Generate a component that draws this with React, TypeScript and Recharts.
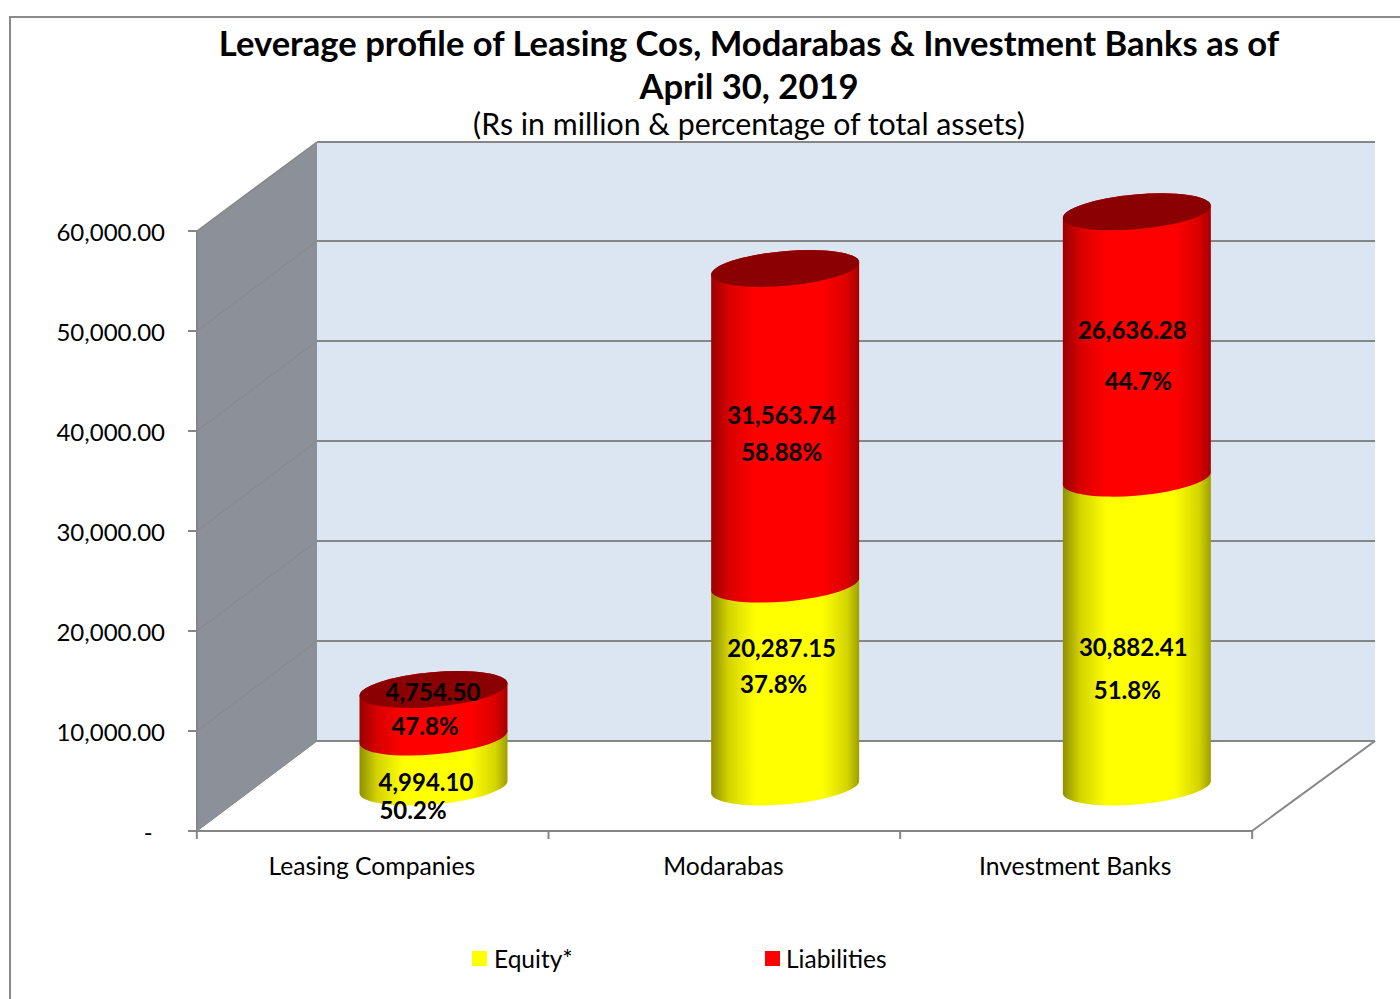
import React from "react";
import { BarChart, Bar, XAxis, YAxis, CartesianGrid, Legend, LabelList, Customized } from "recharts";

const categories = ["Leasing Companies", "Modarabas", "Investment Banks"];
const equity = [4994.1, 20287.15, 30882.41];
const liabilities = [4754.5, 31563.74, 26636.28];
const equityPct = ["50.2%", "37.8%", "51.8%"];
const liabilitiesPct = ["47.8%", "58.88%", "44.7%"];
const yTicks = [0, 10000, 20000, 30000, 40000, 50000, 60000];
const titleLines = ["Leverage profile of Leasing Cos, Modarabas & Investment Banks as of", "April 30, 2019"];
const subtitle = "(Rs in million & percentage of total assets)";

// label nudges relative to the band centre / segment top
const eqValOff = [[53, 0], [57, 19], [57, 124]];
const eqPctOff = [[40, 28], [49, 55], [51, 167]];
const liValOff = [[60, -42.5], [57, 102.5], [56, 74]];
const liPctOff = [[52, -8.5], [57, 139.5], [62, 125]];

const data = categories.map((name, i) => ({
  name,
  equity: equity[i],
  liabilities: liabilities[i],
  equityPct: equityPct[i],
  liabilitiesPct: liabilitiesPct[i],
}));

const FONT = "Lato, Carlito, sans-serif";
const DX = 60.5;
const DY = -44;
const TILT = 6.5;
const RY = 17.3;
const HALF_BAND = 176;
const GRAY = "#868686";

const money = (v: number) => v.toLocaleString("en-US", { minimumFractionDigits: 2, maximumFractionDigits: 2 });

function Cylinder(props: any) {
  const { x, y, width, height, fill, cap } = props;
  const rx = width / 2;
  const L = x + DX;
  const R = L + width;
  const top = y + DY;
  const bot = y + height + DY;
  const arc = `A ${rx} ${RY} -5 0 0`;
  const body = `M ${L} ${top + TILT} L ${L} ${bot + TILT} ${arc} ${R} ${bot - TILT} L ${R} ${top - TILT} ${arc} ${L} ${top + TILT} Z`;
  const lid = `M ${L} ${top + TILT} ${arc} ${R} ${top - TILT} ${arc} ${L} ${top + TILT} Z`;
  return (
    <g>
      <path d={body} fill={fill} />
      {cap ? <path d={lid} fill={cap} /> : null}
    </g>
  );
}

function makeLabel(off: number[][]) {
  return (p: any) => {
    const { x, y, width, value, index } = p;
    return (
      <text
        x={x + width / 2 + off[index][0]}
        y={y + off[index][1]}
        textAnchor="middle"
        dominantBaseline="central"
        fontFamily={FONT}
        fontWeight={700}
        fontSize={24}
        fill="#000"
      >
        {typeof value === "number" ? money(value) : value}
      </text>
    );
  };
}

function Walls() {
  return (
    <g>
      <path d="M 10 999 L 10 17 L 1400 17" fill="none" stroke="#8a8a8a" strokeWidth={2} />
      <polygon points="317,142 1375,142 1375,741 317,741" fill="#DCE6F2" />
      <polygon points="197,231 317,142 317,741 197,831" fill="#8C9199" />
      <line x1={317} y1={142} x2={1375} y2={142} stroke={GRAY} strokeWidth={2} />
      <line x1={197} y1={231} x2={317} y2={142} stroke={GRAY} strokeWidth={1.5} />
      <line x1={197} y1={231} x2={197} y2={831} stroke={GRAY} strokeWidth={2} />
      <line x1={1252} y1={831} x2={1375} y2={741} stroke={GRAY} strokeWidth={2} />
    </g>
  );
}

function Titles() {
  return (
    <g fontFamily={FONT} textAnchor="middle" fill="#000">
      <text x={749} y={56} fontSize={34.6} fontWeight={700}>{titleLines[0]}</text>
      <text x={749} y={99} fontSize={34.6} fontWeight={700}>{titleLines[1]}</text>
      <text x={749} y={135} fontSize={30.3}>{subtitle}</text>
    </g>
  );
}

function gridLine(p: any) {
  const { x1, y1, x2, index } = p;
  const isTop = y1 < 240;
  return (
    <g key={`g-${index}`}>
      {index === 0 && <Walls />}
      {!isTop && <line x1={x1} y1={y1} x2={x1 + 120} y2={y1 - 90} stroke={GRAY} strokeWidth={1} />}
      {!isTop && <line x1={x1 + 120} y1={y1 - 90} x2={x2 + 123} y2={y1 - 90} stroke={GRAY} strokeWidth={2} />}
    </g>
  );
}

function XTick(p: any) {
  const { x, payload, index } = p;
  return (
    <g>
      <line x1={x - HALF_BAND} y1={831} x2={x - HALF_BAND} y2={839} stroke={GRAY} strokeWidth={2} />
      {index === categories.length - 1 && (
        <line x1={x + HALF_BAND} y1={831} x2={x + HALF_BAND} y2={839} stroke={GRAY} strokeWidth={2} />
      )}
      <text x={x - 1} y={865} textAnchor="middle" dominantBaseline="central" fontFamily={FONT} fontSize={24.7} fill="#000">
        {payload.value}
      </text>
    </g>
  );
}

const legendX = [472, 765];
function LegendBox(p: any) {
  return (
    <div style={{ position: "relative", height: 30, width: 1400, fontFamily: FONT, fontSize: 24.5, color: "#000" }}>
      {(p.payload || []).map((e: any, i: number) => (
        <div key={e.value} style={{ position: "absolute", left: legendX[i], top: 0, height: 30, display: "flex", alignItems: "center" }}>
          <span style={{ width: 15, height: 15, background: e.color, display: "inline-block", marginRight: i === 0 ? 7 : 6 }} />
          <span>{e.value}</span>
        </div>
      ))}
    </div>
  );
}

export default function App() {
  return (
    <div style={{ position: "absolute", left: 0, top: 0, width: 1400, height: 999, background: "#fff", overflow: "hidden" }}>
      <BarChart
        width={1400}
        height={999}
        data={data}
        margin={{ top: 231, left: 0, right: 148, bottom: -30 }}
        barSize={148}
      >
        <defs>
          <linearGradient id="gradRed" x1="0" y1="0" x2="1" y2="0">
            <stop offset="0" stopColor="#990000" />
            <stop offset="0.12" stopColor="#d90000" />
            <stop offset="0.3" stopColor="#ff0000" />
            <stop offset="0.75" stopColor="#ff0000" />
            <stop offset="0.92" stopColor="#d90000" />
            <stop offset="1" stopColor="#a50000" />
          </linearGradient>
          <linearGradient id="gradYellow" x1="0" y1="0" x2="1" y2="0">
            <stop offset="0" stopColor="#8f8f00" />
            <stop offset="0.12" stopColor="#d4d400" />
            <stop offset="0.3" stopColor="#ffff00" />
            <stop offset="0.75" stopColor="#ffff00" />
            <stop offset="0.92" stopColor="#d4d400" />
            <stop offset="1" stopColor="#9e9e00" />
          </linearGradient>
        </defs>
        <Customized component={Titles} />
        <CartesianGrid vertical={false} horizontal={gridLine as any} />
        <XAxis
          dataKey="name"
          interval={0}
          height={168}
          tick={XTick as any}
          tickLine={false}
          axisLine={{ stroke: GRAY, strokeWidth: 2 }}
        />
        <YAxis
          width={197}
          domain={[0, 60000]}
          ticks={yTicks}
          interval={0}
          tickSize={9}
          tickMargin={23}
          axisLine={false}
          tickLine={{ stroke: GRAY, strokeWidth: 2 }}
          tick={{ fontFamily: FONT, fontSize: 24, fill: "#000", dy: 1 }}
          tickFormatter={(v: number) => (v === 0 ? "-\u00a0\u00a0" : money(v))}
        />
        <Bar dataKey="equity" name="Equity*" stackId="a" fill="#FFFF00" isAnimationActive={false}
          shape={(p: any) => <Cylinder {...p} fill="url(#gradYellow)" />}>
          <LabelList dataKey="equity" content={makeLabel(eqValOff) as any} />
          <LabelList dataKey="equityPct" content={makeLabel(eqPctOff) as any} />
        </Bar>
        <Bar dataKey="liabilities" name="Liabilities" stackId="a" fill="#FF0000" isAnimationActive={false}
          shape={(p: any) => <Cylinder {...p} fill="url(#gradRed)" cap="#8B0000" />}>
          <LabelList dataKey="liabilities" content={makeLabel(liValOff) as any} />
          <LabelList dataKey="liabilitiesPct" content={makeLabel(liPctOff) as any} />
        </Bar>
        <Legend
          content={LegendBox as any}
          wrapperStyle={{ position: "absolute", left: 0, top: 943, width: 1400, height: 30 }}
        />
      </BarChart>
    </div>
  );
}
